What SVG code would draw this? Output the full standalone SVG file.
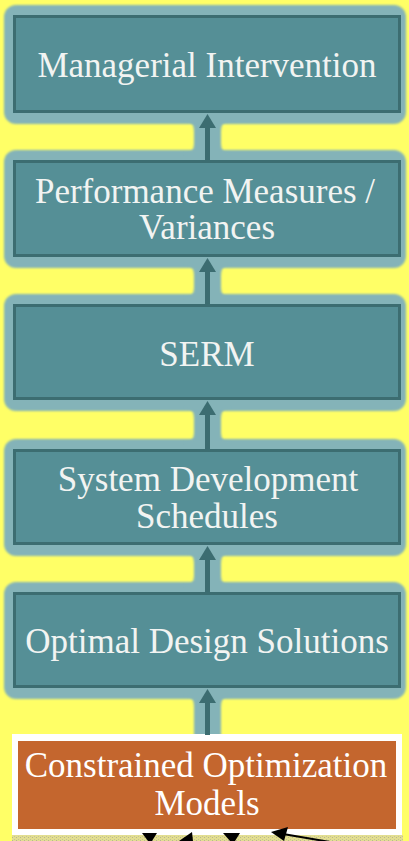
<svg xmlns="http://www.w3.org/2000/svg" width="409" height="841" viewBox="0 0 409 841">
  <defs>
    <filter id="soft" x="-5%" y="-10%" width="110%" height="120%">
      <feGaussianBlur stdDeviation="1.3"/>
    </filter>
    <marker id="arr" viewBox="0 0 14 17" refX="6" refY="8.5" markerWidth="14" markerHeight="17" markerUnits="userSpaceOnUse" orient="auto">
      <path d="M0,0 L14,8.5 L0,17 z" fill="#3c6d71"/>
    </marker>
    <pattern id="dots" width="4" height="3" patternUnits="userSpaceOnUse">
      <rect width="4" height="3" fill="#e2de90"/>
      <rect x="0" y="0" width="1" height="1" fill="#b8b690"/>
      <rect x="2" y="2" width="1" height="1" fill="#c4c296"/>
    </pattern>
    <style>
      .glow { fill: #84b3b8; filter: url(#soft); }
      .box { fill: #558f96; stroke: #3c6d71; stroke-width: 3; }
      .lbl { font-family: "Liberation Serif", "Times New Roman", serif; font-size: 35px; fill: #f2f4f2; text-anchor: middle; }
      .line { stroke: #3c6d71; stroke-width: 5; fill: none; marker-end: url(#arr); }
      .cglow { fill: #84b3b8; filter: url(#soft); }
    </style>
  </defs>
  <rect width="409" height="841" fill="#ffff66"/>

  <!-- glows -->
  <g id="glows">
    <rect class="glow" x="4" y="5" width="402" height="119" rx="12"/>
    <rect class="glow" x="4" y="150" width="402" height="118" rx="12"/>
    <rect class="glow" x="4" y="294" width="402" height="117" rx="12"/>
    <rect class="glow" x="4" y="439" width="402" height="117" rx="12"/>
    <rect class="glow" x="4" y="582" width="402" height="117" rx="12"/>
    <path class="cglow" d="M184 120 Q194 120 194 132 L194 144 Q194 154 184 154 L231 154 Q221 154 221 144 L221 132 Q221 120 231 120 Z"/>
    <path class="cglow" d="M184 264 Q194 264 194 276 L194 288 Q194 298 184 298 L231 298 Q221 298 221 288 L221 276 Q221 264 231 264 Z"/>
    <path class="cglow" d="M184 407 Q194 407 194 419 L194 433 Q194 443 184 443 L231 443 Q221 443 221 433 L221 419 Q221 407 231 407 Z"/>
    <path class="cglow" d="M184 552 Q194 552 194 564 L194 576 Q194 586 184 586 L231 586 Q221 586 221 576 L221 564 Q221 552 231 552 Z"/>
    <path class="cglow" d="M184 695 Q194 695 194 707 L194 735 Q194 743 202 743 L213 743 Q221 743 221 735 L221 707 Q221 695 231 695 Z"/>
  </g>

  <g id="n1">
    <rect class="box" x="14.5" y="16.5" width="385" height="95"/>
    <text class="lbl" x="207" y="77">Managerial Intervention</text>
  </g>
  <g id="n2">
    <rect class="box" x="14.5" y="161.5" width="385" height="94"/>
    <text class="lbl" x="205" y="203">Performance Measures /</text>
    <text class="lbl" x="207" y="239">Variances</text>
  </g>
  <g id="n3">
    <rect class="box" x="14.5" y="305.5" width="385" height="93"/>
    <text class="lbl" x="207" y="366">SERM</text>
  </g>
  <g id="n4">
    <rect class="box" x="14.5" y="450.5" width="385" height="93"/>
    <text class="lbl" x="208" y="491">System Development</text>
    <text class="lbl" x="207" y="528">Schedules</text>
  </g>
  <g id="n5">
    <rect class="box" x="14.5" y="593.5" width="385" height="93"/>
    <text class="lbl" x="207" y="653">Optimal Design Solutions</text>
  </g>

  <g id="strip">
    <rect x="12" y="835" width="391" height="6" fill="url(#dots)"/>
  </g>

  <g id="n6">
    <rect x="12" y="734" width="390" height="101" fill="#ffffff"/>
    <rect x="18" y="741" width="378" height="88" fill="#c4662e"/>
    <text class="lbl" x="206" y="777" style="fill:#ffffff">Constrained Optimization</text>
    <text class="lbl" x="207" y="815" style="fill:#ffffff">Models</text>
  </g>

  <g id="connectors">
    <line class="line" x1="207.5" y1="160" x2="207.5" y2="122"/>
    <line class="line" x1="207.5" y1="304" x2="207.5" y2="266"/>
    <line class="line" x1="207.5" y1="449" x2="207.5" y2="409"/>
    <line class="line" x1="207.5" y1="592" x2="207.5" y2="554"/>
    <line class="line" x1="207.5" y1="735" x2="207.5" y2="697"/>
    <polygon points="142,833 157,833 152,841 148,841" fill="#000"/>
    <polygon points="192,832 179,841 193,841" fill="#000"/>
    <polygon points="223,833 240,833 235,841 230,841" fill="#000"/>
    <polygon points="271,832 288,827 284,841" fill="#000"/>
    <line x1="283" y1="834" x2="336" y2="843" stroke="#000" stroke-width="2"/>
  </g>
</svg>
